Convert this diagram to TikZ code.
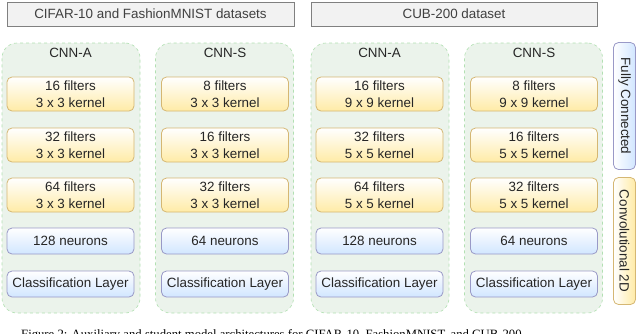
\documentclass[tikz,border=0pt]{standalone}
\usepackage{fontspec}
\setmainfont{Liberation Sans}
\newfontfamily\capfont{Liberation Serif}
\begin{document}
\begin{tikzpicture}[x=1pt,y=-1pt,
  txt/.style={text=black!85, font=\fontsize{13.4}{16.5}\selectfont, align=center},
  hdr/.style={draw=black!50, fill=black!5, line width=0.9pt, minimum height=24pt, inner sep=0pt, text=black!75, font=\fontsize{13.4}{16}\selectfont},
  cont/.style={draw=green!60!black!30, fill=green!40!black!8!white, dashed, line width=0.6pt, rounded corners=15pt, minimum width=138pt, minimum height=270pt, inner sep=0pt},
  convbox/.style={txt, draw=orange!60!yellow!70!black!55, line width=0.8pt, top color=white, bottom color=orange!45!yellow!35, rounded corners=5pt, minimum width=127pt, minimum height=34pt, inner sep=0pt},
  fcbox/.style={txt, draw=blue!45!black!40!white, line width=0.8pt, top color=white, bottom color=blue!55!cyan!18, rounded corners=5pt, minimum width=127pt, minimum height=26pt, inner sep=0pt},
  sidefc/.style={fcbox, minimum width=22pt, minimum height=127pt, left color=white, right color=blue!55!cyan!18},
  sideconv/.style={convbox, minimum width=22pt, minimum height=127pt, left color=white, right color=orange!45!yellow!35}
]
\useasboundingbox (0,0) rectangle (640,333);
\clip (0,0) rectangle (640,333);

% headers
\node[hdr, minimum width=287pt] (h1) at (150.5,14) {CIFAR-10 and FashionMNIST datasets};
\node[hdr, minimum width=286pt] (h2) at (454,14) {CUB-200 dataset};

% containers
\node[cont] (c1) at (71,178) {};
\node[cont] (c2) at (224.5,178) {};
\node[cont] (c3) at (380,178) {};
\node[cont] (c4) at (533.5,178) {};

% column 1
\node[txt] (t1) at (70.5,53) {CNN-A};
\node[convbox] (a1) at (70.5,94) {16 filters\\3 x 3 kernel};
\node[convbox] (a2) at (70.5,145) {32 filters\\3 x 3 kernel};
\node[convbox] (a3) at (70.5,195) {64 filters\\3 x 3 kernel};
\node[fcbox] (a4) at (70.5,241) {128 neurons};
\node[fcbox] (a5) at (70.5,284) {Classification Layer};

% column 2
\node[txt] (t2) at (225,53) {CNN-S};
\node[convbox] (b1) at (225,94) {8 filters\\3 x 3 kernel};
\node[convbox] (b2) at (225,145) {16 filters\\3 x 3 kernel};
\node[convbox] (b3) at (225,195) {32 filters\\3 x 3 kernel};
\node[fcbox] (b4) at (225,241) {64 neurons};
\node[fcbox] (b5) at (225,284) {Classification Layer};

% column 3
\node[txt] (t3) at (379.5,53) {CNN-A};
\node[convbox] (d1) at (379.5,94) {16 filters\\9 x 9 kernel};
\node[convbox] (d2) at (379.5,145) {32 filters\\5 x 5 kernel};
\node[convbox] (d3) at (379.5,195) {64 filters\\5 x 5 kernel};
\node[fcbox] (d4) at (379.5,241) {128 neurons};
\node[fcbox] (d5) at (379.5,284) {Classification Layer};

% column 4
\node[txt] (t4) at (534,53) {CNN-S};
\node[convbox] (e1) at (534,94) {8 filters\\9 x 9 kernel};
\node[convbox] (e2) at (534,145) {16 filters\\5 x 5 kernel};
\node[convbox] (e3) at (534,195) {32 filters\\5 x 5 kernel};
\node[fcbox] (e4) at (534,241) {64 neurons};
\node[fcbox] (e5) at (534,284) {Classification Layer};

% legend
\node[sidefc] (l1) at (624.5,106) {};
\node[txt, rotate=-90] (l1t) at (l1.center) {Fully Connected};
\node[sideconv] (l2) at (624.5,241) {};
\node[txt, rotate=-90] (l2t) at (l2.center) {Convolutional 2D};

% caption (cut off)
\node[anchor=base west, inner sep=0pt, text=black, font=\capfont\fontsize{12.7}{14}\selectfont] (cap) at (21,338) {Figure 2: Auxiliary and student model architectures for CIFAR-10, FashionMNIST, and CUB-200};
\end{tikzpicture}
\end{document}
